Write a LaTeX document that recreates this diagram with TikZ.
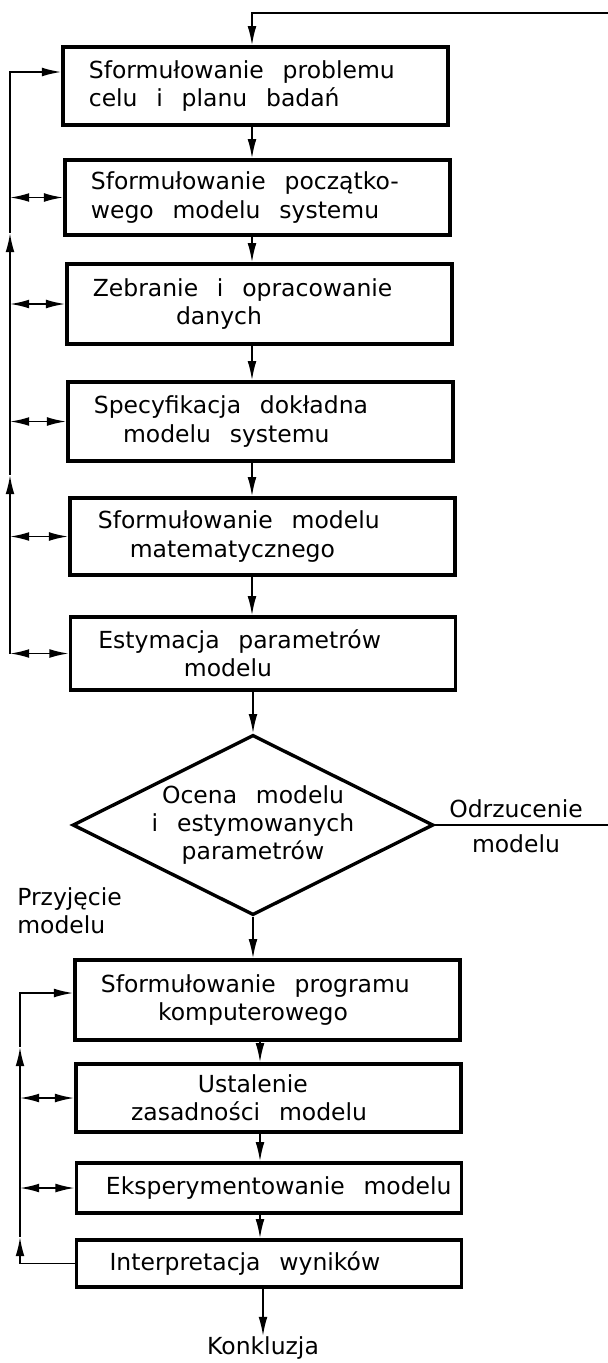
\documentclass[tikz,border=0pt]{standalone}
\usepackage{fontspec}
\setmainfont{DejaVu Sans}
\usepackage{tikz}
\usetikzlibrary{arrows.meta, shapes.geometric, positioning}

\newcommand{\tekst}{\fontsize{16.7}{20}\selectfont}
\newcommand{\odstep}{\spaceskip=0.8em plus 0.2em minus 0.1em\relax}

\tikzset{
  blok/.style={draw, line width=2.4pt, rectangle, align=left,
    inner xsep=0.65cm, inner ysep=0pt, text width=8.33cm, minimum height=#1},
  blok/.default=1.9cm,
  decyzja/.style={draw, line width=2.4pt, diamond, shape aspect=2, align=center,
    inner sep=0pt, minimum width=9.02cm, minimum height=4.47cm},
  etykieta/.style={inner sep=0pt},
  arr/.style={-{Latex[length=0.48cm,width=0.22cm]}, line width=1.2pt},
  dbl/.style={{Latex[length=0.48cm,width=0.22cm]}-{Latex[length=0.48cm,width=0.22cm]}, line width=1.2pt}
}

\begin{document}
\begin{tikzpicture}[x=0.025cm, y=-0.025cm, font=\tekst,
  every node/.append style={execute at begin node=\odstep}]
\useasboundingbox (0,0) rectangle (607,1363);

% bloki
\node[blok=1.95cm] (b1) at (255.5,86) {Sformułowanie problemu\\celu i planu badań};
\node[blok=1.875cm] (b2) at (257.5,197.5) {Sformułowanie początko-\\wego modelu systemu};
\node[blok=2cm] (b3) at (259.5,304) {Zebranie i opracowanie\\\hspace*{2.08cm}danych};
\node[blok=1.975cm] (b4) at (260.5,421.5) {Specyfikacja dokładna\\\hspace*{0.73cm}modelu systemu};
\node[blok=1.925cm] (b5) at (262.5,536.5) {\hspace*{0.05cm}Sformułowanie modelu\\\hspace*{0.85cm}matematycznego};
\node[blok=1.825cm] (b6) at (263,653.5) {\hspace*{0.05cm}Estymacja parametrów\\\hspace*{2.19cm}modelu};
\node[decyzja] (dec) at (253,825) {Ocena modelu\\i estymowanych\\parametrów};
\node[blok=2cm] (b7) at (267.5,1000) {Sformułowanie programu\\\hspace*{1.43cm}komputerowego};
\node[blok=1.7cm] (b8) at (268.5,1098) {\hspace*{2.4cm}Ustalenie\\\hspace*{0.73cm}zasadności modelu};
\node[blok=1.25cm] (b9) at (269,1188) {\hspace*{0.09cm}\mbox{Eksperymentowanie modelu}};
\node[blok=1.175cm] (b10) at (269,1263.5) {\hspace*{0.18cm}Interpretacja wyników};

% opisy
\node[etykieta, align=center] (odrz) at (516,826) {Odrzucenie\\[5pt]modelu};
\node[etykieta, align=left, anchor=west] (przyj) at (17,911) {Przyjęcie\\modelu};
\node[etykieta, anchor=north] (konk) at (263,1336) {Konkluzja};

% osie
\coordinate (os) at (252,0);
\coordinate (os2) at (260,0);
\coordinate (powrot) at (615,13);

\foreach \a/\b in {b1/b2,b2/b3,b3/b4,b4/b5,b5/b6}
  \draw[arr] (\a.south -| os) -- (\b.north -| os);
\draw[arr] (b6.south -| dec.north) -- (dec.north);
\draw[arr] (dec.south) -- (dec.south |- b7.north);
\foreach \a/\b in {b7/b8,b8/b9,b9/b10}
  \draw[arr] (\a.south -| os2) -- (\b.north -| os2);
\draw[arr] (b10.south -| konk.north) -- (konk.north);

% odrzucenie
\draw[arr] (dec.east) -| (powrot) -| (b1.north -| os);

% petla gorna
\coordinate (lg) at (10,72);
\coordinate (lg1) at (10,233);
\coordinate (lg2) at (10,475);
\draw[arr] (b6.west -| lg) -- (lg2);
\draw[arr] (lg2) -- (lg1);
\draw[arr] (lg1) -- (lg) -- (lg -| b1.west);
\foreach \b in {b2,b3,b4,b5,b6}
  \draw[dbl] (\b.west -| lg) -- (\b.west);

% petla dolna
\coordinate (ld) at (20,993);
\coordinate (ld1) at (20,1047);
\coordinate (ld2) at (20,1237);
\draw[arr] (b10.west) -| (ld2);
\draw[arr] (ld2) -- (ld1);
\draw[arr] (ld1) -- (ld) -- (ld -| b7.west);
\foreach \b in {b8,b9}
  \draw[dbl] (\b.west -| ld) -- (\b.west);
\end{tikzpicture}
\end{document}
